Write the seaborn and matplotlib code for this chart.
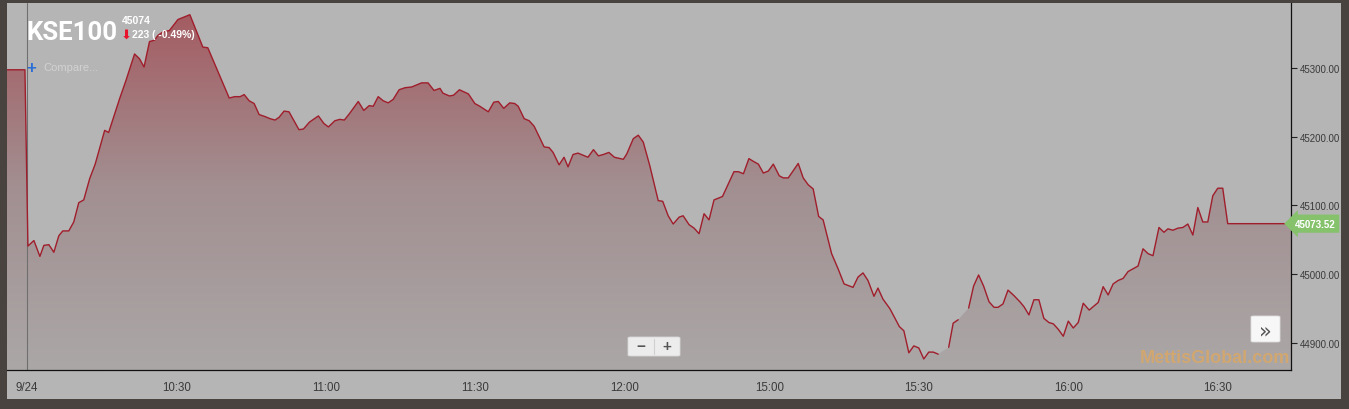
import numpy as np
import pandas as pd
import matplotlib
matplotlib.use("Agg")
import matplotlib.pyplot as plt
import seaborn as sns
from matplotlib.colors import LinearSegmentedColormap
from matplotlib.patches import Rectangle, FancyBboxPatch
from matplotlib.lines import Line2D

# session minutes from the open (lunch break squeezed out), and index level
minutes = [
    -4.0, -0.4, 0.2, 1.4, 2.6, 3.4, 4.4, 5.4, 6.4, 7.2, 8.4, 9.4, 10.4, 11.4, 12.6, 13.7,
    15.6, 16.4, 18.6, 19.9, 21.6, 22.6, 23.5, 24.6, 25.6, 26.3, 27.3, 28.6, 30.3, 31.7,
    32.7, 35.3, 36.3, 40.6, 41.7, 42.8, 43.6, 44.6, 45.6, 46.6, 47.8, 48.8, 49.8, 50.6,
    51.6, 52.6, 54.6, 55.5, 56.7, 58.5, 59.6, 60.5, 61.8, 62.8, 63.7, 64.7, 66.5, 67.6,
    68.7, 69.5, 70.5, 71.5, 72.5, 73.5, 74.7, 75.9, 77.2, 79.2, 80.5, 81.7, 82.9, 83.5,
    84.8, 85.6, 86.8, 88.6, 89.9, 90.9, 92.6, 93.7, 94.6, 95.7, 96.9, 97.9, 98.6, 99.8,
    100.8, 101.8, 103.8, 104.8, 105.6, 106.8, 107.8, 108.6, 109.6, 110.6, 112.6, 113.7,
    114.7, 115.7, 116.8, 117.9, 119.7, 120.4, 121.7, 122.7, 123.7, 125.0, 126.7, 127.6,
    128.7, 129.7, 130.9, 131.7, 132.9, 133.9, 134.9, 135.9, 136.9, 137.9, 139.6, 141.9,
    142.8, 143.8, 144.9, 145.8, 146.8, 147.8, 148.8, 149.8, 151.0, 151.8, 152.8, 154.8,
    155.8, 156.8, 157.8, 158.9, 159.8, 161.5, 162.8, 164.0, 165.8, 166.8, 167.8, 168.8,
    170.0, 170.8, 171.8, 173.2, 175.1, 176.0, 177.0, 178.0, 179.0, 180.0, 181.0, 181.9,
    182.9, 185.0, 185.9, 186.9, 189.0, 190.0, 191.0, 192.0, 193.1, 194.1, 194.9, 195.9,
    196.9, 198.1, 199.3, 200.1, 201.1, 202.1, 203.1, 204.1, 205.1, 206.0, 207.0, 208.0,
    209.0, 210.0, 211.0, 212.0, 213.2, 214.0, 215.0, 216.0, 217.0, 218.0, 219.0, 220.0,
    221.0, 222.0, 223.0, 224.0, 225.0, 226.0, 227.2, 228.2, 229.0, 230.0, 231.0, 232.0,
    233.0, 234.0, 235.0, 236.0, 237.0, 238.0, 239.0, 240.0, 241.0, 253.7,
]
values = [
    45297, 45297, 45041, 45049, 45026, 45042, 45043, 45032, 45056, 45063, 45063, 45076,
    45104, 45108, 45139, 45160, 45209, 45206, 45255, 45282, 45320, 45313, 45301, 45338,
    45340, 45347, 45352, 45354, 45370, 45374, 45377, 45330, 45329, 45256, 45258, 45258,
    45261, 45252, 45248, 45232, 45229, 45226, 45224, 45228, 45237, 45236, 45210, 45211,
    45221, 45230, 45219, 45214, 45223, 45225, 45224, 45233, 45251, 45238, 45245, 45244,
    45258, 45252, 45249, 45254, 45268, 45271, 45272, 45278, 45278, 45267, 45270, 45263,
    45259, 45260, 45268, 45262, 45248, 45244, 45236, 45250, 45251, 45241, 45249, 45248,
    45244, 45226, 45223, 45215, 45185, 45184, 45177, 45159, 45170, 45156, 45174, 45176,
    45170, 45181, 45172, 45174, 45177, 45170, 45167, 45175, 45197, 45202, 45192, 45158,
    45107, 45106, 45085, 45073, 45083, 45085, 45072, 45067, 45059, 45088, 45079, 45108,
    45113, 45149, 45149, 45146, 45168, 45164, 45160, 45147, 45150, 45160, 45143, 45140,
    45140, 45161, 45140, 45130, 45124, 45084, 45079, 45030, 45008, 44986, 44981, 44996,
    45002, 44991, 44968, 44980, 44964, 44950, 44924, 44918, 44886, 44896, 44893, 44877,
    44887, 44887, 44884, 44894, 44929, 44934, 44951, 44983, 44999, 44983, 44960, 44952,
    44952, 44957, 44977, 44969, 44960, 44953, 44941, 44963, 44963, 44936, 44930, 44928,
    44920, 44910, 44932, 44922, 44930, 44958, 44948, 44953, 44959, 44982, 44970, 44986,
    44991, 44994, 45004, 45008, 45012, 45037, 45030, 45027, 45068, 45061, 45066, 45064,
    45067, 45068, 45073, 45057, 45097, 45076, 45076, 45114, 45125, 45125, 45073.52, 45073.52,
]
# the line is not drawn right after these minutes
line_breaks = [182.9, 186.9]

tick_pos = [0, 30, 60, 90, 120, 149, 179, 209, 239]
tick_labels = ["9/24", "10:30", "11:00", "11:30", "12:00", "15:00", "15:30", "16:00", "16:30"]
y_ticks = [44900, 45000, 45100, 45200, 45300]

last_price = 45073.52
header_last = "45074"
header_change = "223 ( -0.49%)"

W, H = 1349, 410
def fx(x):
    return x / W
def fy(y):
    return 1 - y / H

sns.set_style("white", {"axes.facecolor": "#b5b5b5"})
plt.rcParams["font.family"] = ["Liberation Sans", "DejaVu Sans"]

df = pd.DataFrame({"minute": minutes, "value": values})
df["segment"] = np.digitize(df["minute"], line_breaks, right=True)

fig = plt.figure(figsize=(W / 100, H / 100), dpi=100, facecolor="#48433e")
fig.add_artist(Rectangle((fx(7), fy(400)), fx(1341) - fx(7), fy(4) - fy(400),
                         transform=fig.transFigure, fc="#b5b5b5", ec="none", zorder=0))

ax = fig.add_axes([fx(7), fy(371), fx(1291) - fx(7), fy(4) - fy(371)])
xmin, xmax = -4.0, 253.7
ymin, ymax = 44861, 45394

# gradient area under the curve
fill_cmap = LinearSegmentedColormap.from_list("kse_fill", ["#aba7a7", "#a28f91", "#a4595f"])
grad = np.linspace(0, 1, 256).reshape(-1, 1)
im = ax.imshow(grad, cmap=fill_cmap, aspect="auto", origin="lower",
               extent=[xmin, xmax, ymin, ymax], zorder=1)
poly = ax.fill_between(df["minute"], df["value"], ymin, color="none", lw=0)
im.set_clip_path(poly.get_paths()[0], transform=ax.transData)

ax.axvline(0, color="#6f6f6f", lw=0.8, zorder=2)

sns.lineplot(data=df, x="minute", y="value", units="segment", estimator=None, sort=False,
             color="#a01e2c", lw=1.0, ax=ax, zorder=3)

ax.set_xlim(xmin, xmax)
ax.set_ylim(ymin, ymax)
ax.set_xlabel("")
ax.set_ylabel("")
ax.set_xticks(tick_pos)
ax.set_xticklabels(tick_labels)
ax.set_yticks(y_ticks)
ax.set_yticklabels([f"{v:.2f}" for v in y_ticks])
ax.yaxis.tick_right()
ax.tick_params(axis="both", direction="out", length=4, width=0.8, color="#222222",
               labelcolor="#3a3a3a")
ax.tick_params(axis="x", labelsize=8.3, pad=4)
ax.tick_params(axis="y", labelsize=7, pad=2.5)
for side in ["left", "top"]:
    ax.spines[side].set_visible(False)
for side in ["right", "bottom"]:
    ax.spines[side].set_color("#111111")
    ax.spines[side].set_linewidth(0.9)

# last price tag
ax.annotate(f"{last_price:.2f}", xy=(1, last_price), xycoords=("axes fraction", "data"),
            xytext=(2.5, 0), textcoords="offset points", ha="left", va="center",
            fontsize=7, fontweight="bold", color="white", annotation_clip=False,
            zorder=5,
            bbox=dict(boxstyle="larrow,pad=0.42", fc="#86c26c", ec="none"))

# header
fig.text(fx(26), fy(40), "KSE100", fontsize=18.5, fontweight="bold", color="white",
         family="Roboto", va="baseline")
fig.text(fx(122), fy(21), header_last, fontsize=7.5, fontweight="bold", color="white", va="center")
fig.text(fx(120.5), fy(35), "⬇", fontsize=9.5, color="#e8122a", va="center",
         family=["DejaVu Sans"])
fig.text(fx(132), fy(35), header_change, fontsize=7.5, fontweight="bold", color="white",
         va="center")
fig.text(fx(26), fy(68), "+", fontsize=12, fontweight="bold", color="#2b6fd6", va="center")
fig.text(fx(43), fy(68), "Compare...", fontsize=8, color="#d2d2d2", va="center")

# zoom controls
fig.add_artist(FancyBboxPatch((fx(628), fy(357)), fx(680) - fx(628), fy(338) - fy(357),
                              boxstyle="round,pad=0,rounding_size=0.002",
                              transform=fig.transFigure, fc="#ececec", ec="#d8d8d8", lw=0.6))
fig.add_artist(Line2D([fx(654), fx(654)], [fy(340), fy(355)], transform=fig.transFigure,
                      color="#d0d0d0", lw=0.8))
fig.text(fx(641), fy(347.5), "−", fontsize=11, fontweight="bold", color="#555555",
         ha="center", va="center")
fig.text(fx(667), fy(347.5), "+", fontsize=11, fontweight="bold", color="#555555",
         ha="center", va="center")

# scroll button
fig.add_artist(FancyBboxPatch((fx(1251), fy(343)), fx(1280) - fx(1251), fy(317) - fy(343),
                              boxstyle="round,pad=0,rounding_size=0.002",
                              transform=fig.transFigure, fc="#f7f7f7", ec="#dddddd", lw=0.6))
fig.text(fx(1265.5), fy(331), "»", fontsize=15, color="#555555", ha="center", va="center",
         family=["DejaVu Sans"])

# watermark
fig.text(fx(1290), fy(359), "MettisGlobal.com", fontsize=13, fontweight="bold",
         color="#dfa85e", alpha=0.75, ha="right", va="center")

fig.savefig("out.png", dpi=100, facecolor=fig.get_facecolor())
